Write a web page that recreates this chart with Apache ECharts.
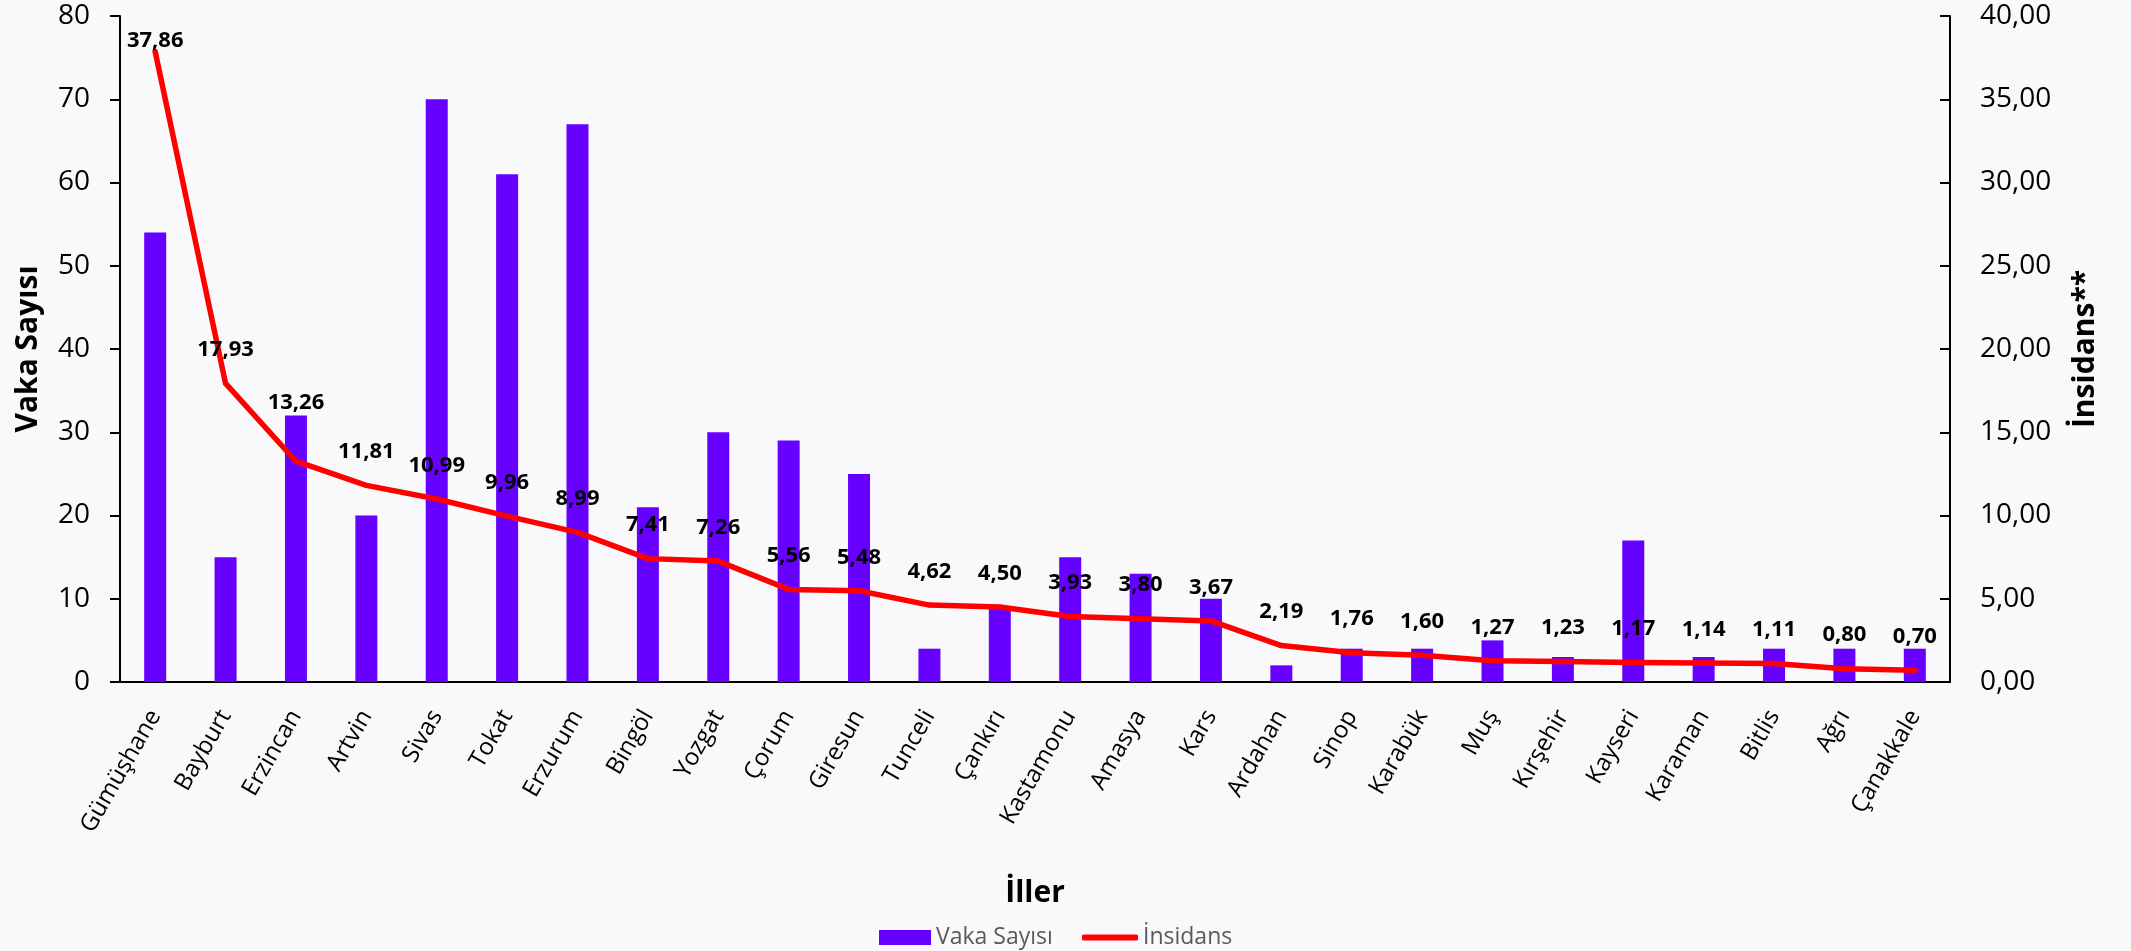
<!DOCTYPE html>
<html>
<head>
<meta charset="utf-8">
<script src="https://cdn.jsdelivr.net/npm/echarts@6/dist/echarts.min.js"></script>
<style>
  html, body { margin: 0; padding: 0; background: #f9f9fb; }
  #chart { width: 2131px; height: 951px; }
</style>
</head>
<body>
<div id="chart"></div>
<script>
// Provinces ordered by incidence
const provinces = ['Gümüşhane', 'Bayburt', 'Erzincan', 'Artvin', 'Sivas', 'Tokat', 'Erzurum', 'Bingöl', 'Yozgat', 'Çorum', 'Giresun', 'Tunceli', 'Çankırı', 'Kastamonu', 'Amasya', 'Kars', 'Ardahan', 'Sinop', 'Karabük', 'Muş', 'Kırşehir', 'Kayseri', 'Karaman', 'Bitlis', 'Ağrı', 'Çanakkale'];
// Number of cases (left axis)
const caseCounts = [54, 15, 32, 20, 70, 61, 67, 21, 30, 29, 25, 4, 9, 15, 13, 10, 2, 4, 4, 5, 3, 17, 3, 4, 4, 4];
// Incidence (right axis)
const incidence = [37.86, 17.93, 13.26, 11.81, 10.99, 9.96, 8.99, 7.41, 7.26, 5.56, 5.48, 4.62, 4.50, 3.93, 3.80, 3.67, 2.19, 1.76, 1.60, 1.27, 1.23, 1.17, 1.14, 1.11, 0.80, 0.70];
// Axis ranges
const leftAxisMax = 80, leftAxisStep = 10;
const rightAxisMax = 40, rightAxisStep = 5;

const FONT = 'Open Sans';
const comma = (v, d) => Number(v).toFixed(d).replace('.', ',');

// Label placement tweaks: the first point sits at the top edge,
// and the third label is lifted clear of its bar
const labelDistance = { 0: 1, 2: 45 };
const labelOffset = { 0: [0, 4] };
const incidenceData = incidence.map((v, i) => {
  if (!(i in labelDistance)) return v;
  const label = { distance: labelDistance[i] };
  if (labelOffset[i]) label.offset = labelOffset[i];
  return { value: v, label };
});

const chart = echarts.init(document.getElementById('chart'), null, { renderer: 'canvas' });

chart.setOption({
  backgroundColor: '#f9f9fb',
  animation: false,
  textStyle: { fontFamily: FONT },
  grid: { left: 120, right: 181, top: 16, bottom: 269, containLabel: false },
  legend: [
    {
      data: ['Vaka Sayısı'],
      left: 874, top: 921,
      itemWidth: 52, itemHeight: 15,
      icon: 'rect',
      textStyle: { fontFamily: FONT, fontSize: 23, color: '#595959' }
    },
    {
      data: ['İnsidans'],
      left: 1077, top: 921,
      itemWidth: 56, itemHeight: 6,
      icon: 'roundRect',
      textStyle: { fontFamily: FONT, fontSize: 23, color: '#595959' }
    }
  ],
  xAxis: {
    type: 'category',
    data: provinces,
    name: 'İller',
    nameLocation: 'middle',
    nameGap: 196,
    nameTextStyle: { fontFamily: FONT, fontSize: 30, fontWeight: 'bold', color: '#000' },
    axisLine: { show: true, lineStyle: { color: '#000', width: 2 } },
    axisTick: { show: false },
    axisLabel: {
      rotate: 60, interval: 0, margin: 30,
      fontFamily: FONT, fontSize: 24, color: '#000'
    },
    splitLine: { show: false }
  },
  yAxis: [
    {
      type: 'value',
      min: 0, max: leftAxisMax, interval: leftAxisStep,
      position: 'left',
      name: 'Vaka Sayısı',
      nameLocation: 'middle',
      nameGap: 77,
      nameTextStyle: { fontFamily: FONT, fontSize: 30, fontWeight: 'bold', color: '#000' },
      axisLine: { show: true, lineStyle: { color: '#000', width: 2 } },
      axisTick: { show: true, inside: false, length: 10, lineStyle: { color: '#000', width: 2 } },
      axisLabel: { margin: 30, fontFamily: FONT, fontSize: 28, color: '#000' },
      splitLine: { show: false }
    },
    {
      type: 'value',
      min: 0, max: rightAxisMax, interval: rightAxisStep,
      position: 'right',
      name: 'İnsidans**',
      nameLocation: 'middle',
      nameRotate: 90,
      nameGap: 120,
      nameTextStyle: { fontFamily: FONT, fontSize: 30, fontWeight: 'bold', color: '#000' },
      axisLine: { show: true, lineStyle: { color: '#000', width: 2 } },
      axisTick: { show: true, inside: true, length: 10, lineStyle: { color: '#000', width: 2 } },
      axisLabel: {
        margin: 30, fontFamily: FONT, fontSize: 28, color: '#000',
        formatter: v => comma(v, 2)
      },
      splitLine: { show: false }
    }
  ],
  series: [
    {
      name: 'Vaka Sayısı',
      type: 'bar',
      yAxisIndex: 0,
      data: caseCounts,
      barWidth: 22,
      itemStyle: { color: '#6600ff' }
    },
    {
      name: 'İnsidans',
      type: 'line',
      yAxisIndex: 1,
      data: incidenceData,
      symbol: 'circle',
      symbolSize: 5,
      showSymbol: true,
      lineStyle: { color: '#ff0000', width: 5.5, join: 'round', cap: 'round' },
      itemStyle: { color: '#ff0000' },
      label: {
        show: true,
        position: 'top',
        distance: 20,
        fontFamily: FONT,
        fontSize: 22,
        fontWeight: 'bold',
        color: '#000',
        formatter: p => comma(p.value, 2)
      },
      z: 3
    }
  ]
});
</script>
</body>
</html>
